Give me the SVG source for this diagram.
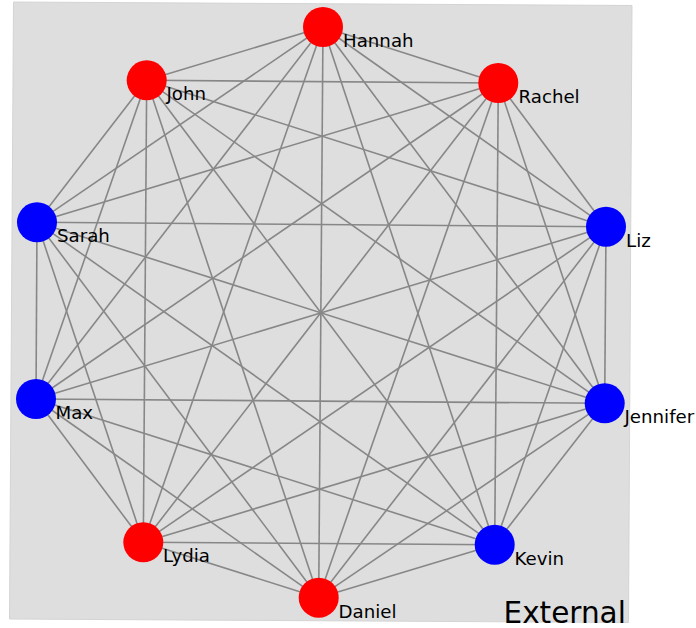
<svg xmlns="http://www.w3.org/2000/svg" width="696" height="628" viewBox="0 0 696 628">
<style>
.e{stroke:#878787;stroke-width:1.6;fill:none}
.red{fill:#ff0000}
.blue{fill:#0000ff}
.lbl{font-family:"DejaVu Sans",sans-serif;font-size:18.2px;fill:#000}
.title{font-family:"DejaVu Sans",sans-serif;font-size:29.5px;fill:#000}
</style>
<rect width="696" height="628" fill="#ffffff"/>
<polygon points="13.5,2 632,5.5 628.5,622.5 9.5,619" fill="#dedede" stroke="#d4d4d4" stroke-width="1"/>
<g id="connectors">
<line class="e" x1="323" y1="27" x2="498.3" y2="83"/>
<line class="e" x1="323" y1="27" x2="606" y2="226.7"/>
<line class="e" x1="323" y1="27" x2="604.7" y2="403.3"/>
<line class="e" x1="323" y1="27" x2="494.7" y2="544.7"/>
<line class="e" x1="323" y1="27" x2="318.7" y2="597.7"/>
<line class="e" x1="323" y1="27" x2="143.3" y2="542.3"/>
<line class="e" x1="323" y1="27" x2="36" y2="399"/>
<line class="e" x1="323" y1="27" x2="37" y2="222.3"/>
<line class="e" x1="323" y1="27" x2="146.7" y2="80.3"/>
<line class="e" x1="498.3" y1="83" x2="606" y2="226.7"/>
<line class="e" x1="498.3" y1="83" x2="604.7" y2="403.3"/>
<line class="e" x1="498.3" y1="83" x2="494.7" y2="544.7"/>
<line class="e" x1="498.3" y1="83" x2="318.7" y2="597.7"/>
<line class="e" x1="498.3" y1="83" x2="143.3" y2="542.3"/>
<line class="e" x1="498.3" y1="83" x2="36" y2="399"/>
<line class="e" x1="498.3" y1="83" x2="37" y2="222.3"/>
<line class="e" x1="498.3" y1="83" x2="146.7" y2="80.3"/>
<line class="e" x1="606" y1="226.7" x2="604.7" y2="403.3"/>
<line class="e" x1="606" y1="226.7" x2="494.7" y2="544.7"/>
<line class="e" x1="606" y1="226.7" x2="318.7" y2="597.7"/>
<line class="e" x1="606" y1="226.7" x2="143.3" y2="542.3"/>
<line class="e" x1="606" y1="226.7" x2="36" y2="399"/>
<line class="e" x1="606" y1="226.7" x2="37" y2="222.3"/>
<line class="e" x1="606" y1="226.7" x2="146.7" y2="80.3"/>
<line class="e" x1="604.7" y1="403.3" x2="494.7" y2="544.7"/>
<line class="e" x1="604.7" y1="403.3" x2="318.7" y2="597.7"/>
<line class="e" x1="604.7" y1="403.3" x2="143.3" y2="542.3"/>
<line class="e" x1="604.7" y1="403.3" x2="36" y2="399"/>
<line class="e" x1="604.7" y1="403.3" x2="37" y2="222.3"/>
<line class="e" x1="604.7" y1="403.3" x2="146.7" y2="80.3"/>
<line class="e" x1="494.7" y1="544.7" x2="318.7" y2="597.7"/>
<line class="e" x1="494.7" y1="544.7" x2="143.3" y2="542.3"/>
<line class="e" x1="494.7" y1="544.7" x2="36" y2="399"/>
<line class="e" x1="494.7" y1="544.7" x2="37" y2="222.3"/>
<line class="e" x1="494.7" y1="544.7" x2="146.7" y2="80.3"/>
<line class="e" x1="318.7" y1="597.7" x2="143.3" y2="542.3"/>
<line class="e" x1="318.7" y1="597.7" x2="36" y2="399"/>
<line class="e" x1="318.7" y1="597.7" x2="37" y2="222.3"/>
<line class="e" x1="318.7" y1="597.7" x2="146.7" y2="80.3"/>
<line class="e" x1="143.3" y1="542.3" x2="36" y2="399"/>
<line class="e" x1="143.3" y1="542.3" x2="37" y2="222.3"/>
<line class="e" x1="143.3" y1="542.3" x2="146.7" y2="80.3"/>
<line class="e" x1="36" y1="399" x2="37" y2="222.3"/>
<line class="e" x1="36" y1="399" x2="146.7" y2="80.3"/>
<line class="e" x1="37" y1="222.3" x2="146.7" y2="80.3"/>
</g>
<g id="hannah"><circle class="red" cx="323" cy="27" r="20"/><text class="lbl" x="343" y="47">Hannah</text></g>
<g id="rachel"><circle class="red" cx="498.3" cy="83" r="20"/><text class="lbl" x="518.5" y="103">Rachel</text></g>
<g id="liz"><circle class="blue" cx="606" cy="226.7" r="20"/><text class="lbl" x="626" y="246.5">Liz</text></g>
<g id="jennifer"><circle class="blue" cx="604.7" cy="403.3" r="20"/><text class="lbl" x="624.5" y="423">Jennifer</text></g>
<g id="kevin"><circle class="blue" cx="494.7" cy="544.7" r="20"/><text class="lbl" x="514.5" y="564.5">Kevin</text></g>
<g id="daniel"><circle class="red" cx="318.7" cy="597.7" r="20"/><text class="lbl" x="338.5" y="617.5">Daniel</text></g>
<g id="lydia"><circle class="red" cx="143.3" cy="542.3" r="20"/><text class="lbl" x="163" y="562">Lydia</text></g>
<g id="max"><circle class="blue" cx="36" cy="399" r="20"/><text class="lbl" x="55.5" y="418.5">Max</text></g>
<g id="sarah"><circle class="blue" cx="37" cy="222.3" r="20"/><text class="lbl" x="57" y="242">Sarah</text></g>
<g id="john"><circle class="red" cx="146.7" cy="80.3" r="20"/><text class="lbl" x="166.5" y="100">John</text></g>
<text class="title" x="503.5" y="622.5">External</text>
</svg>
